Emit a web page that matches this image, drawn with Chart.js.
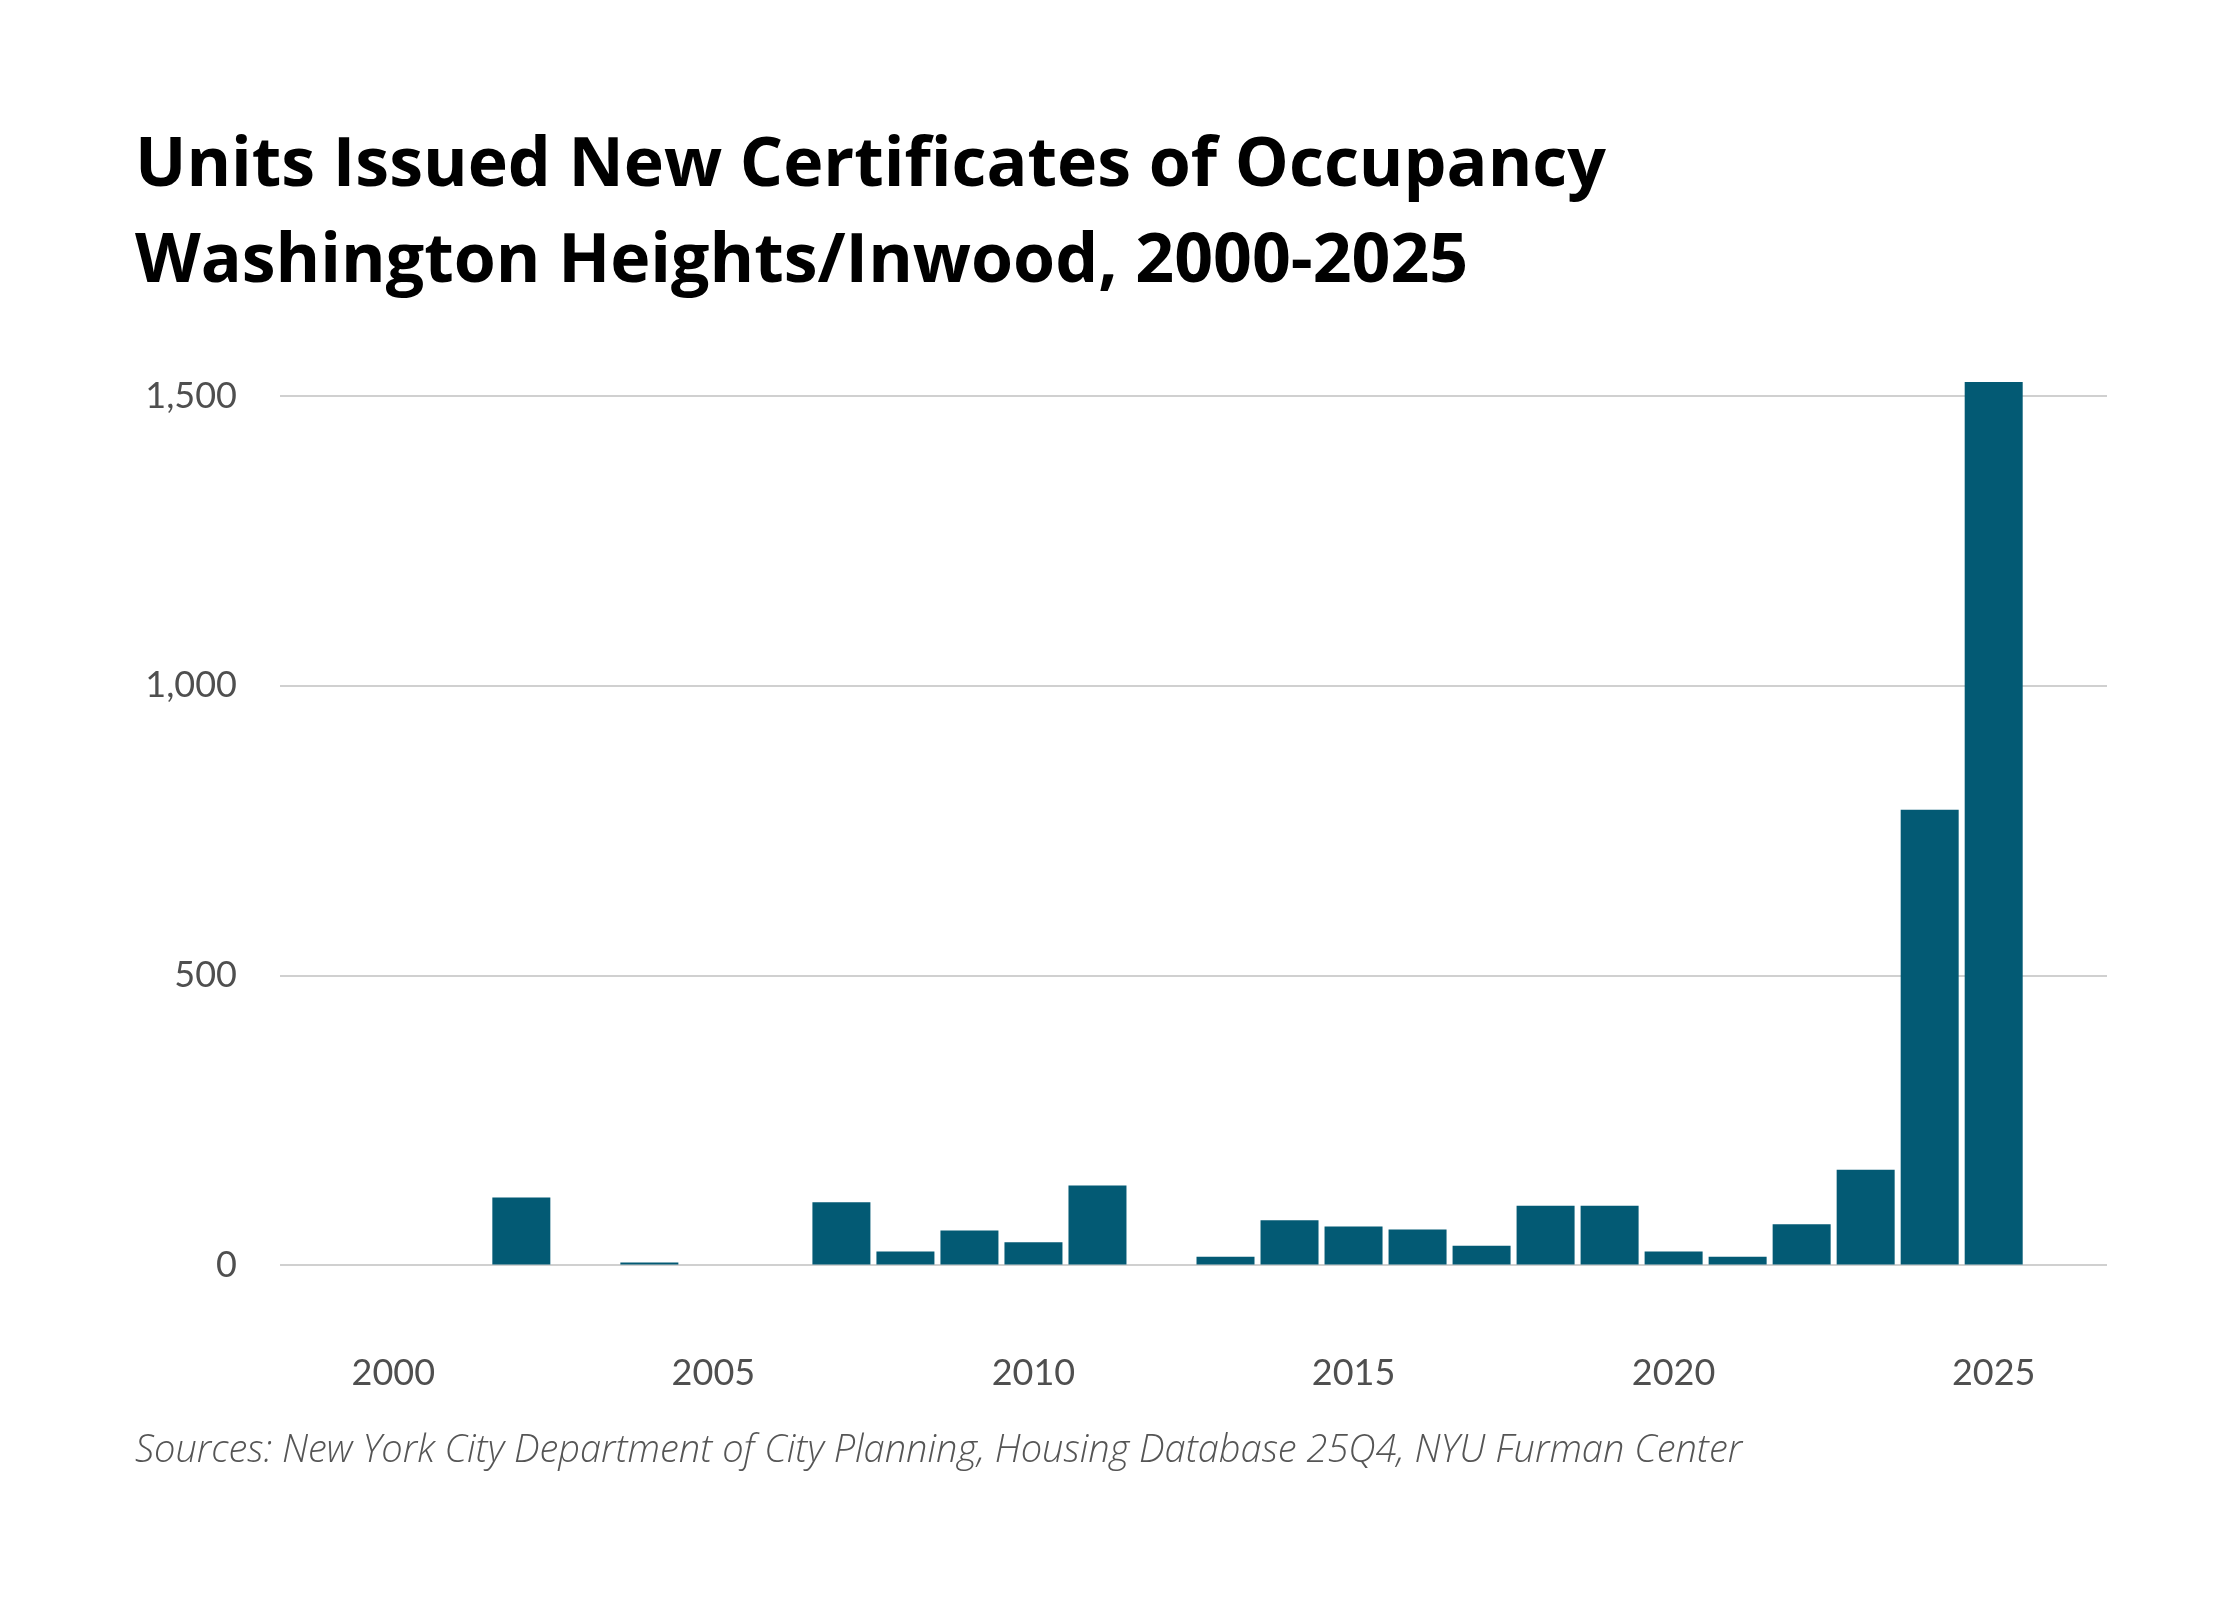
<!DOCTYPE html>
<html>
<head>
<meta charset="utf-8">
<title>Units Issued New Certificates of Occupancy</title>
<script src="https://cdn.jsdelivr.net/npm/chart.js@4/dist/chart.umd.min.js"></script>
<style>
  html, body { margin: 0; padding: 0; background: #ffffff; }
  #wrap { width: 2240px; height: 1600px; position: relative; }
</style>
</head>
<body>
<div id="wrap"><canvas id="coChart"></canvas></div>
<script>
// data
const years = [2000, 2001, 2002, 2003, 2004, 2005, 2006, 2007, 2008, 2009,
  2010, 2011, 2012, 2013, 2014, 2015, 2016, 2017, 2018, 2019,
  2020, 2021, 2022, 2023, 2024, 2025];
const units = [0, 0, 117, 0, 5, 0, 0, 109, 24, 60,
  40, 138, 0, 15, 78, 67, 62, 34, 103, 103,
  24, 15, 71, 165, 786, 1524];
const xTicks = [2000, 2005, 2010, 2015, 2020, 2025];
const yTicks = [0, 500, 1000, 1500];
const titleLines = ["Units Issued New Certificates of Occupancy", "Washington Heights/Inwood, 2000-2025"];
const sourceText = "Sources: New York City Department of City Planning, Housing Database 25Q4, NYU Furman Center";

const barColor = "#035a74";
const tickColor = "#4f4f4f";

var ctx = document.getElementById("coChart");
var coChart = new Chart(ctx, {
  type: "bar",
  data: {
    datasets: [
      {
        label: "Units",
        data: years.map((y, i) => ({ x: y, y: units[i] })),
        backgroundColor: barColor,
        borderWidth: 0,
        barPercentage: 0.906,
        categoryPercentage: 1,
      },
    ],
  },
  options: {
    responsive: true,
    maintainAspectRatio: false,
    animation: false,
    layout: {
      padding: { top: 119, left: 135, right: 133, bottom: 126 },
    },
    plugins: {
      legend: { display: false },
      tooltip: { enabled: false },
      title: {
        display: true,
        text: titleLines,
        align: "start",
        color: "#000000",
        font: { family: "Open Sans", size: 68, weight: "bold", lineHeight: 1.41 },
        padding: { top: 0, bottom: 62 },
      },
      subtitle: {
        display: true,
        position: "bottom",
        text: sourceText,
        align: "start",
        color: "#555555",
        font: { family: "Open Sans", size: 38, style: "italic", weight: 300, lineHeight: 1.2 },
        padding: { top: 34, bottom: 0 },
      },
    },
    scales: {
      x: {
        type: "linear",
        min: 1998.23,
        max: 2026.77,
        offset: false,
        grid: { display: false, drawTicks: false },
        border: { display: false },
        afterBuildTicks: (scale) => {
          scale.ticks = xTicks.map((v) => ({ value: v }));
        },
        afterFit: (scale) => {
          scale.height = 129;
        },
        ticks: {
          color: tickColor,
          padding: 86,
          maxRotation: 0,
          font: { family: "Lato", size: 36 },
          callback: (v) => String(v),
        },
      },
      y: {
        min: 0,
        max: 1540,
        grid: { color: "#d0d0d0", lineWidth: 2, drawTicks: false },
        border: { display: false },
        afterBuildTicks: (scale) => {
          scale.ticks = yTicks.map((v) => ({ value: v }));
        },
        afterFit: (scale) => {
          scale.width = 145;
        },
        ticks: {
          color: tickColor,
          padding: 43,
          font: { family: "Lato", size: 36 },
          callback: (v) => v.toLocaleString("en-US"),
        },
      },
    },
  },
});
</script>
</body>
</html>
